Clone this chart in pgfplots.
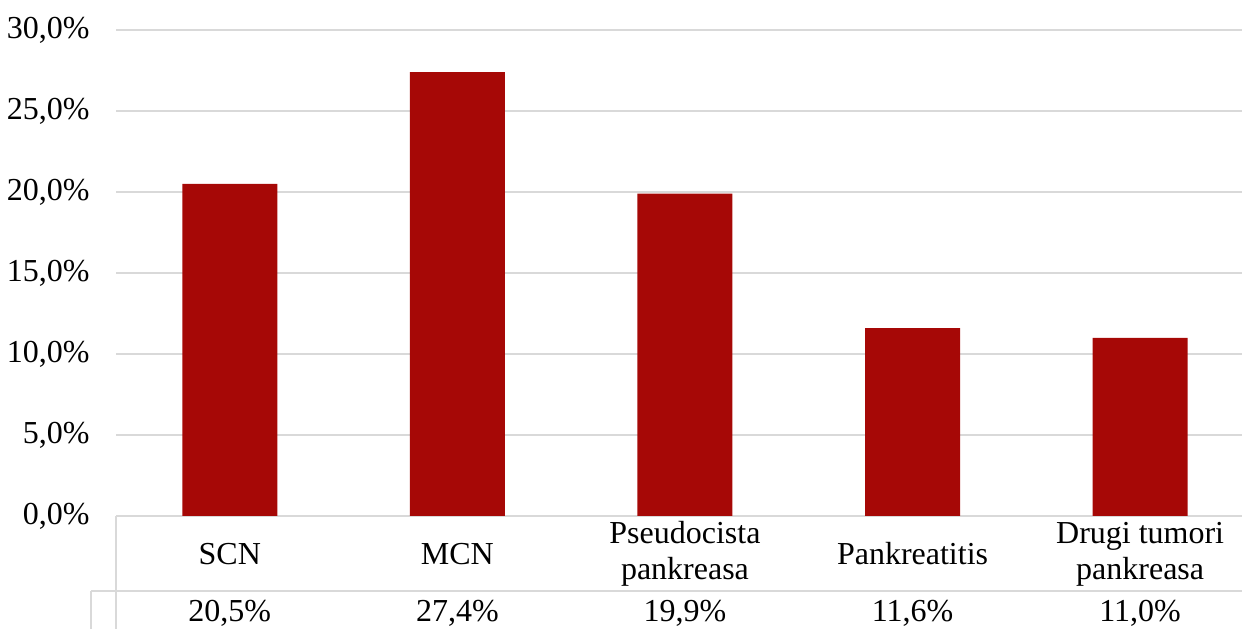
\documentclass[border=0pt]{standalone}
\usepackage{fontspec}
\setmainfont{Liberation Serif}
\usepackage{pgfplots}
\usepackage{pgfplotstable}
\pgfplotsset{compat=1.18}
\definecolor{barred}{RGB}{166,8,6}
\definecolor{gridgray}{RGB}{217,217,217}

% Share of each diagnosis
\pgfplotstableread{
idx share
0 20.5
1 27.4
2 19.9
3 11.6
4 11.0
}\shares

\newcommand{\chartfont}{\fontsize{32bp}{36bp}\selectfont}

\begin{document}
\begin{tikzpicture}[x=1bp,y=1bp]
\useasboundingbox (0,0) rectangle (1242,629);
\begin{axis}[
  at={(116bp,113bp)}, anchor=south west,
  scale only axis, width=1138bp, height=486bp,
  xmin=-0.5, xmax=4.5, ymin=0, ymax=30,
  ytick={0,5,...,30},
  axis line style={draw=none},
  ymajorgrids, grid style={gridgray, line width=1.5bp},
  major tick length=0,
  xtick={0,...,4},
  xticklabels={SCN, MCN, {Pseudocista\\pankreasa}, Pankreatitis, {Drugi tumori\\pankreasa}},
  every tick label/.append style={font=\chartfont, text=black},
  xticklabel style={anchor=center, yshift=-38bp, align=center},
  yticklabel={\pgfmathprintnumber{\tick}\%},
  yticklabel style={anchor=east, xshift=-23bp},
  /pgf/number format/use comma,
  /pgf/number format/fixed,
  /pgf/number format/fixed zerofill,
  /pgf/number format/precision=1,
  /pgf/number format/assume math mode=true,
  clip=false,
]
\addplot[ybar, bar width=95bp, fill=barred, draw=none] table[x=idx, y=share]{\shares};
% value row of the data table under the categories
\addplot[draw=none, mark=none, point meta=explicit,
  nodes near coords={\pgfmathprintnumber{\pgfplotspointmeta}\%},
  nodes near coords style={anchor=center, yshift=-97bp, font=\chartfont, text=black}]
  table[x=idx, y expr=0, meta=share]{\shares};
\end{axis}
% data table rules
\draw[gridgray, line width=1.5bp] (116,113) -- (116,0);
\draw[gridgray, line width=1.5bp] (91,38) -- (1254,38);
\draw[gridgray, line width=1.5bp] (91,38) -- (91,0);
\end{tikzpicture}
\end{document}
